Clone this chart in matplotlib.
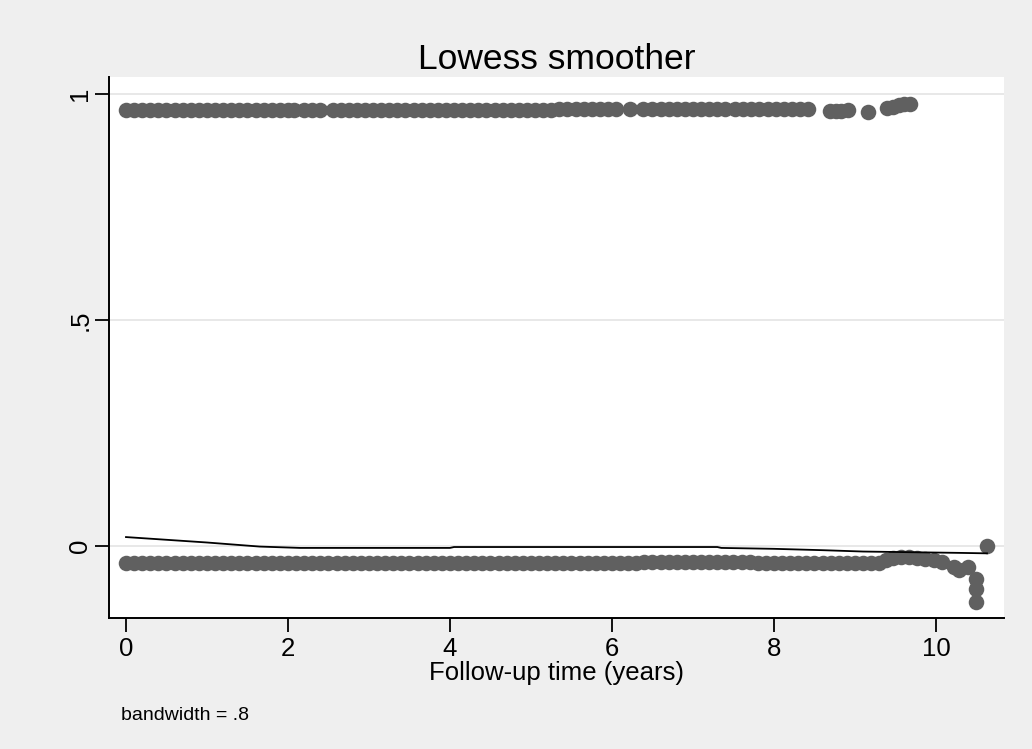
import numpy as np
import matplotlib.pyplot as plt

plt.rcParams["font.family"] = ["Liberation Sans", "DejaVu Sans"]

title = "Lowess smoother"
xlabel = "Follow-up time (years)"
note = "bandwidth = .8"

# observations, upper band (outcome = 1)
top_x = [0.00, 0.10, 0.20, 0.30, 0.40, 0.50, 0.60, 0.70, 0.80, 0.90,
         1.00, 1.10, 1.20, 1.30, 1.40, 1.50, 1.60, 1.70, 1.80, 1.90,
         2.00, 2.08, 2.20, 2.30, 2.40, 2.55, 2.65, 2.75, 2.85, 2.95,
         3.05, 3.15, 3.25, 3.35, 3.45, 3.55, 3.65, 3.75, 3.85, 3.95,
         4.05, 4.15, 4.25, 4.35, 4.45, 4.55, 4.65, 4.75, 4.85, 4.95,
         5.05, 5.15, 5.25, 5.35, 5.45, 5.55, 5.65, 5.75, 5.85, 5.95,
         6.05, 6.22, 6.38, 6.50, 6.60, 6.70, 6.80, 6.90, 7.00, 7.10,
         7.20, 7.30, 7.40, 7.52, 7.62, 7.72, 7.82, 7.92, 8.02, 8.12,
         8.22, 8.32, 8.42,
         8.69, 8.76, 8.83, 8.91,
         9.16,
         9.40, 9.47, 9.54, 9.61, 9.68]
top_y = [0.965] * 53 + [0.967] * 30 + \
        [0.963, 0.963, 0.963, 0.964,
         0.960,
         0.969, 0.972, 0.975, 0.977, 0.978]

# observations, lower band (outcome = 0)
bot_x = [0.00, 0.10, 0.20, 0.30, 0.40, 0.50, 0.60, 0.70, 0.80, 0.90,
         1.00, 1.10, 1.20, 1.30, 1.40, 1.50, 1.60, 1.70, 1.80, 1.90,
         2.00, 2.10, 2.20, 2.30, 2.40, 2.50, 2.60, 2.70, 2.80, 2.90,
         3.00, 3.10, 3.20, 3.30, 3.40, 3.50, 3.60, 3.70, 3.80, 3.90,
         4.00, 4.10, 4.20, 4.30, 4.40, 4.50, 4.60, 4.70, 4.80, 4.90,
         5.00, 5.10, 5.20, 5.30, 5.40, 5.50, 5.60, 5.70, 5.80, 5.90,
         6.00, 6.10, 6.20, 6.30, 6.40, 6.50, 6.60, 6.70, 6.80, 6.90,
         7.00, 7.10, 7.20, 7.30, 7.40, 7.50, 7.60, 7.70, 7.80, 7.90,
         8.00, 8.10, 8.20, 8.30, 8.40, 8.50, 8.60, 8.70, 8.80, 8.90,
         9.00, 9.10, 9.20, 9.30,
         9.38, 9.47, 9.57, 9.67, 9.77, 9.87, 9.97, 10.07,
         10.22, 10.28, 10.40,
         10.49, 10.49, 10.50,
         10.63]
bot_y = [-0.038] * 64 + [-0.035] * 14 + [-0.037] * 16 + \
        [-0.031, -0.026, -0.025, -0.025, -0.026, -0.028, -0.031, -0.036,
         -0.047, -0.052, -0.046,
         -0.073, -0.095, -0.124,
         0.000]

# lowess fit
fit_x = [0.00, 0.50, 1.00, 1.65, 2.15, 4.00, 4.05, 7.30, 7.35, 8.00,
         8.60, 9.10, 9.50, 9.90, 10.30, 10.63]
fit_y = [0.020, 0.014, 0.008, -0.001, -0.004, -0.004, -0.002, -0.002,
         -0.004, -0.006, -0.009, -0.012, -0.013, -0.014, -0.015, -0.016]

xticks = [0, 2, 4, 6, 8, 10]
yticks = [0, 0.5, 1]
ytick_labels = ["0", ".5", "1"]

fig = plt.figure(figsize=(10.32, 7.49), dpi=100, facecolor="#efefef")
ax = fig.add_axes([0.1056, 0.1749, 0.8673, 0.7223])
ax.set_facecolor("white")

ax.scatter(top_x, top_y, s=125, color="#606060", linewidths=0, zorder=3)
ax.scatter(bot_x, bot_y, s=125, color="#606060", linewidths=0, zorder=3)
ax.plot(fit_x, fit_y, color="black", lw=1.3, zorder=4)

ax.set_xlim(-0.21, 10.84)
ax.set_ylim(-0.159, 1.0376)
ax.set_xticks(xticks)
ax.set_yticks(yticks)
ax.set_yticklabels(ytick_labels, rotation=90, va="center")
ax.tick_params(axis="both", length=10, width=1.3, labelsize=18.5)
ax.tick_params(axis="x", pad=4)
ax.tick_params(axis="y", pad=2)
ax.grid(axis="y", color="#e6e6e6", lw=1.3, zorder=0)
ax.set_axisbelow(True)

for side in ["top", "right"]:
    ax.spines[side].set_visible(False)
for side in ["left", "bottom"]:
    ax.spines[side].set_linewidth(1.4)

ax.set_xlabel(xlabel, fontsize=18.5, labelpad=0)
ax.set_title(title, fontsize=25.5, pad=6)
fig.text(121 / 1032, 1 - 716 / 749, note, fontsize=14, va="center", ha="left")

plt.savefig("out.png", dpi=100, facecolor=fig.get_facecolor())
